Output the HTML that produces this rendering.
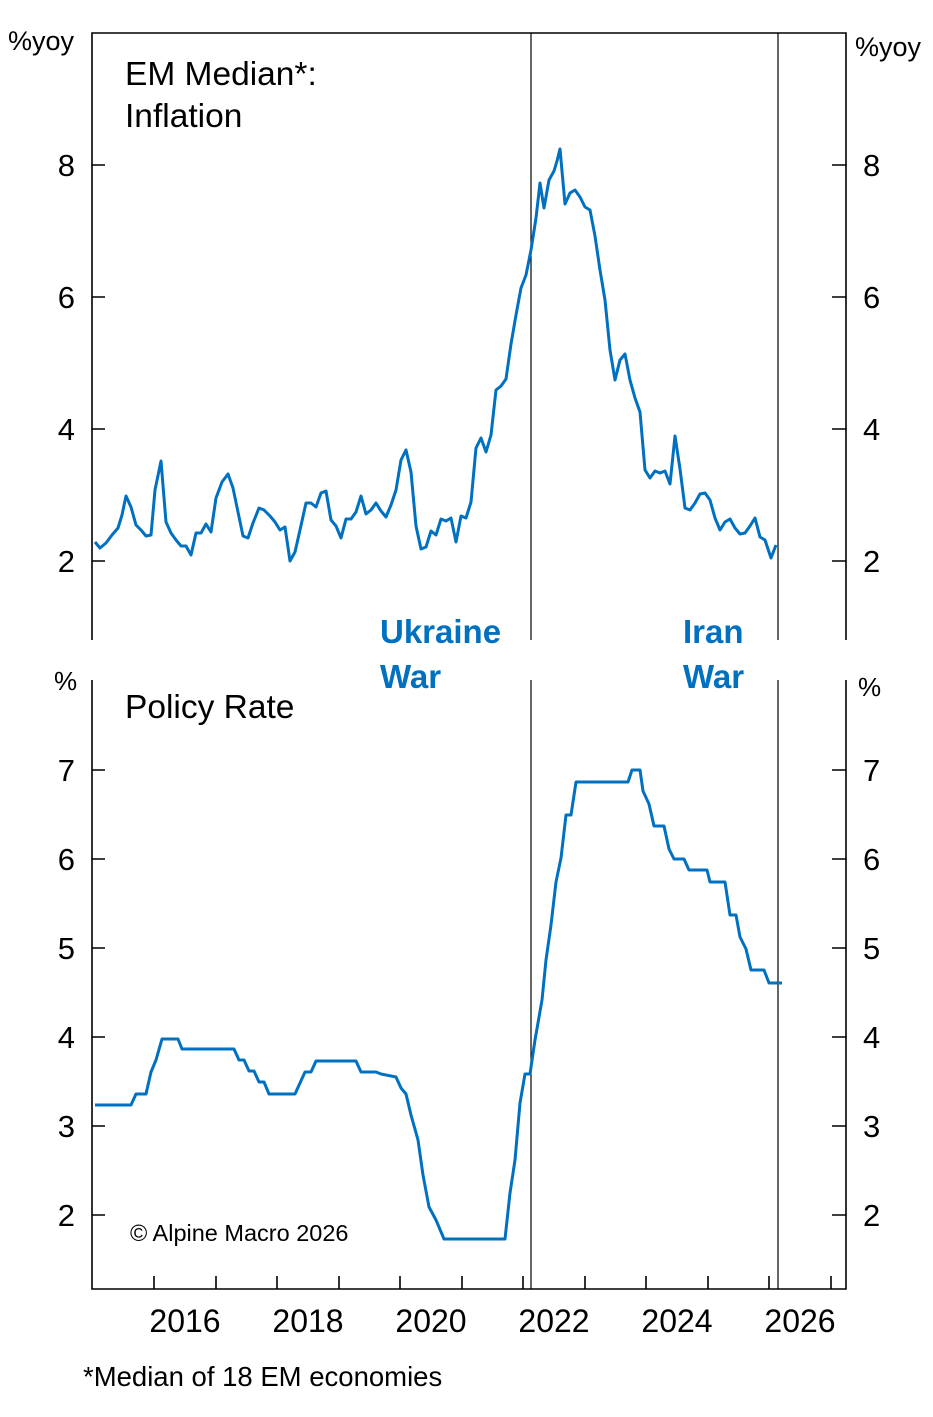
<!DOCTYPE html>
<html><head><meta charset="utf-8"><style>
body{margin:0;background:#fff}
svg text{font-family:"Liberation Sans",Arial,sans-serif;fill:#000}
</style></head><body>
<svg width="933" height="1412" viewBox="0 0 933 1412" xmlns="http://www.w3.org/2000/svg">
<g stroke="#000" stroke-width="1.6" fill="none">
<polyline points="92,640 92,33 846,33 846,640"/>
<polyline points="92,680 92,1289 846,1289 846,680"/>
<line x1="531" y1="33" x2="531" y2="640" stroke-width="1.2"/>
<line x1="778" y1="33" x2="778" y2="640" stroke-width="1.2"/>
<line x1="531" y1="680" x2="531" y2="1289" stroke-width="1.2"/>
<line x1="778" y1="680" x2="778" y2="1289" stroke-width="1.2"/>
<path d="M92 165h13M92 297h13M92 429h13M92 561h13M846 165h-14M846 297h-14M846 429h-14M846 561h-14"/>
<path d="M92 770h13M92 859h13M92 948h13M92 1037h13M92 1126h13M92 1215h13M846 770h-14M846 859h-14M846 948h-14M846 1037h-14M846 1126h-14M846 1215h-14"/>
<path d="M154 1289v-13M216 1289v-13M277 1289v-13M339 1289v-13M400 1289v-13M462 1289v-13M523 1289v-13M585 1289v-13M646 1289v-13M708 1289v-13M769 1289v-13M831 1289v-13"/>
</g>
<g font-size="31">
<text x="75" y="176" text-anchor="end">8</text><text x="75" y="308" text-anchor="end">6</text><text x="75" y="440" text-anchor="end">4</text><text x="75" y="572" text-anchor="end">2</text>
<text x="863" y="176">8</text><text x="863" y="308">6</text><text x="863" y="440">4</text><text x="863" y="572">2</text>
<text x="75" y="781" text-anchor="end">7</text><text x="75" y="870" text-anchor="end">6</text><text x="75" y="959" text-anchor="end">5</text><text x="75" y="1048" text-anchor="end">4</text><text x="75" y="1137" text-anchor="end">3</text><text x="75" y="1226" text-anchor="end">2</text>
<text x="863" y="781">7</text><text x="863" y="870">6</text><text x="863" y="959">5</text><text x="863" y="1048">4</text><text x="863" y="1137">3</text><text x="863" y="1226">2</text>
<g text-anchor="middle" font-size="32">
<text x="185" y="1332">2016</text><text x="308" y="1332">2018</text><text x="431" y="1332">2020</text><text x="554" y="1332">2022</text><text x="677" y="1332">2024</text><text x="800" y="1332">2026</text>
</g>
</g>
<text x="8" y="50" font-size="27">%yoy</text>
<text x="855" y="56" font-size="27">%yoy</text>
<text x="54" y="690" font-size="26">%</text>
<text x="858" y="696" font-size="26">%</text>
<text x="125" y="85" font-size="33.5">EM Median*:</text>
<text x="125" y="127" font-size="33.5">Inflation</text>
<text x="125" y="718" font-size="33.5">Policy Rate</text>
<text x="130" y="1241" font-size="23.5">© Alpine Macro 2026</text>
<text x="83" y="1386" font-size="27.5">*Median of 18 EM economies</text>
<g font-size="33" font-weight="bold">
<text x="380" y="643" style="fill:#0070c0">Ukraine</text><text x="380" y="688" style="fill:#0070c0">War</text>
<text x="683" y="643" style="fill:#0070c0">Iran</text><text x="683" y="688" style="fill:#0070c0">War</text>
</g>
<g fill="none" stroke="#0070c0" stroke-width="3" stroke-linejoin="round">
<polyline points="95,542 100,548 106,543 112,535 118,528 122,515 126,496 131,507 136,525 141,530 146,536 151,535 155,490 161,461 166,522 171,533 176,540 181,546 186,546 191,555 196,533 201,533 206,524 211,532 216,498 222,482 228,474 233,488 238,512 243,536 248,538 253,523 259,508 264,510 270,516 275,522 280,530 285,527 290,561 295,552 300,530 306,503 311,503 316,507 321,493 326,491 331,520 336,526 341,538 346,519 351,519 356,512 361,496 366,514 371,510 376,503 381,511 386,517 391,505 396,490 401,460 406,450 411,472 416,526 421,549 426,547 431,531 436,535 441,519 446,521 451,518 456,542 461,516 466,518 471,502 476,448 481,438 486,452 491,435 496,390 501,386 506,379 511,344 516,315 521,288 526,275 531,250 536,218 540,183 544,208 549,180 554,171 557,161 560,149 565,204 570,193 575,190 580,197 585,207 590,210 595,236 600,270 605,300 610,350 615,380 620,360 625,354 630,380 635,398 640,412 645,470 650,478 655,471 660,473 665,471 670,484 675,436 680,469 685,508 690,510 695,503 700,494 705,493 710,500 715,518 720,530 725,522 730,519 735,528 740,534 745,533 750,526 755,518 760,537 765,540 771,558 776,545"/>
<polyline points="95,1105 131,1105 136,1094 146,1094 151,1072 156,1060 162,1039 178,1039 182,1049 234,1049 239,1060 244,1060 249,1071 254,1071 259,1082 264,1082 269,1094 295,1094 300,1083 305,1072 311,1072 316,1061 356,1061 361,1072 376,1072 381,1074 391,1076 396,1077 401,1088 406,1094 411,1115 418,1140 423,1175 429,1207 436,1220 444,1239 505,1239 510,1193 515,1160 520,1103 525,1074 530,1074 535,1040 542,1000 546,960 551,925 556,882 561,858 566,815 571,815 576,782 628,782 632,770 640,770 643,791 649,804 654,826 664,826 669,849 674,859 684,859 689,870 707,870 710,882 725,882 730,915 736,915 740,937 746,949 751,970 764,970 769,983 782,983"/>
</g>
</svg>
</body></html>
